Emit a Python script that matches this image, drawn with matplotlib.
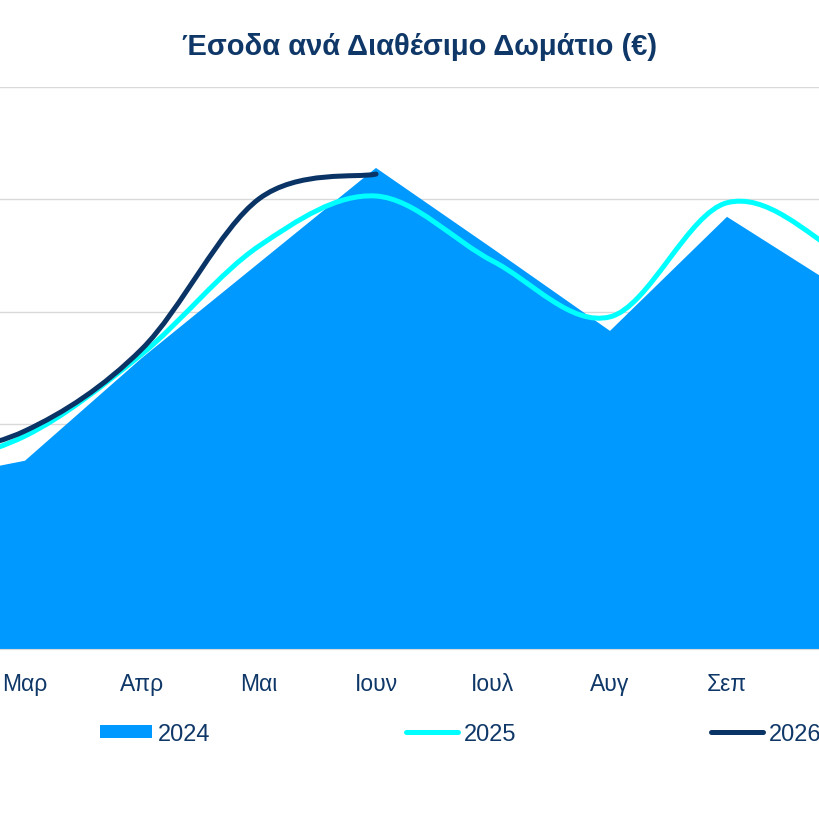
import matplotlib
matplotlib.use("Agg")
import matplotlib.pyplot as plt
from matplotlib.path import Path
from matplotlib.patches import PathPatch, Patch
from matplotlib.lines import Line2D
import numpy as np

months = ["Ιαν", "Φεβ", "Μαρ", "Απρ", "Μαι", "Ιουν", "Ιουλ", "Αυγ", "Σεπ", "Οκτ", "Νοε", "Δεκ"]
revpar_2024 = [27.0, 29.4, 33.5, 51.8, 68.7, 85.6, 71.2, 56.6, 76.9, 63.7, 45.0, 33.0]
revpar_2025 = [29.0, 32.0, 37.9, 52.5, 71.7, 80.6, 69.0, 59.1, 79.4, 69.8, 53.0, 41.0]
revpar_2026 = [30.0, 33.8, 38.8, 53.4, 80.1, 84.5]
yticks = [0, 20, 40, 60, 80, 100]

navy_text = "#0F3868"
c2024 = "#0099FF"
c2025 = "#00FFFF"
c2026 = "#0A3466"

plt.rcParams["font.family"] = ["Liberation Sans", "DejaVu Sans"]


def smooth_path(xs, ys):
    # excel-like smoothed line: catmull-rom as cubic bezier
    n = len(xs)
    verts = [(xs[0], ys[0])]
    codes = [Path.MOVETO]
    for i in range(n - 1):
        a = i - 1 if i > 0 else i
        d = i + 2 if i + 2 < n else i + 1
        c1 = (xs[i] + (xs[i + 1] - xs[a]) / 6, ys[i] + (ys[i + 1] - ys[a]) / 6)
        c2 = (xs[i + 1] - (xs[d] - xs[i]) / 6, ys[i + 1] - (ys[d] - ys[i]) / 6)
        verts += [c1, c2, (xs[i + 1], ys[i + 1])]
        codes += [Path.CURVE4] * 3
    return Path(verts, codes)


fig = plt.figure(figsize=(8.2, 8.2), dpi=100)
W = 820.0
ax = fig.add_axes([-267.5 / W, 170 / W, 1404 / W, 562 / W])

x = np.arange(len(months))
ax.fill_between(x, 0, revpar_2024, color=c2024, lw=0, zorder=2)

lw = 3.6
p25 = PathPatch(smooth_path(x, revpar_2025), fill=False, edgecolor=c2025, lw=lw,
                capstyle="round", joinstyle="round", zorder=3)
ax.add_patch(p25)
x26 = np.arange(len(revpar_2026))
p26 = PathPatch(smooth_path(x26, revpar_2026), fill=False, edgecolor=c2026, lw=lw,
                capstyle="round", joinstyle="round", zorder=4)
ax.add_patch(p26)

ax.set_xlim(-0.5, len(months) - 0.5)
ax.set_ylim(0, 100)
ax.set_yticks(yticks)
ax.set_xticks(x)
ax.set_xticklabels(months)
ax.grid(axis="y", color="#D9D9D9", lw=1.0, zorder=0)
ax.set_axisbelow(True)
for s in ["top", "left", "right"]:
    ax.spines[s].set_visible(False)
ax.spines["bottom"].set_color("#D9D9D9")
ax.spines["bottom"].set_zorder(5)
ax.tick_params(axis="x", length=0, pad=16.5, labelsize=16.5, labelcolor=navy_text)
ax.tick_params(axis="y", length=0, labelleft=False)

fig.text(420 / W, 1 - 55 / W, "Έσοδα ανά Διαθέσιμο Δωμάτιο (€)", ha="center", va="baseline",
         fontsize=21, fontweight="bold", color=navy_text)

handles = [Patch(facecolor=c2024, edgecolor="none"),
           Line2D([], [], color=c2025, lw=lw, solid_capstyle="round"),
           Line2D([], [], color=c2026, lw=lw, solid_capstyle="round")]
fig.legend(handles, ["2024", "2025", "2026"], loc="center",
           bbox_to_anchor=(461 / W, 1 - 735 / W), ncol=3, frameon=False,
           fontsize=17, labelcolor=navy_text, handlelength=2.2, handleheight=0.51,
           handletextpad=0.25, columnspacing=8.26)

fig.savefig("out.png", dpi=100)
